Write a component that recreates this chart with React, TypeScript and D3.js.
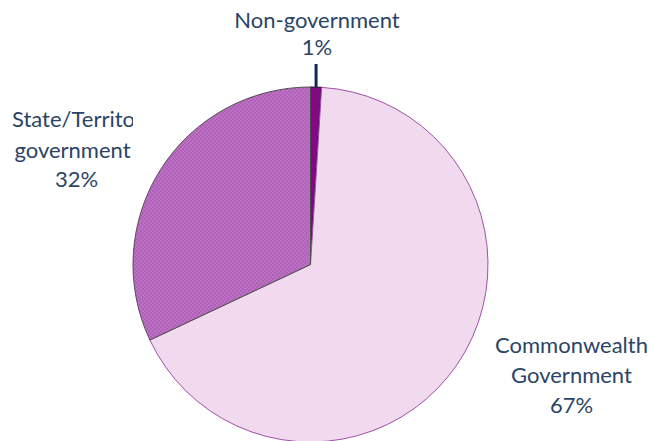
import React from "react";
import * as d3 from "d3";

const categories = ["Non-government", "Commonwealth Government", "State/Territory government"];
const values = [1, 67, 32];
const percentLabels = ["1%", "67%", "32%"];

const W = 653;
const H = 441;

export default function App() {
  const cx = 310.5;
  const cy = 264.5;
  const r = 177.5;
  const pie = d3.pie<number>().sort(null).value((d) => d)(values);
  const arc = d3.arc<d3.PieArcDatum<number>>().innerRadius(0).outerRadius(r);
  const fills = ["url(#pNon)", "url(#pCom)", "url(#pState)"];
  const strokes = ["#3a1040", "#a050a8", "#505050"];
  const textColor = "#2b4466";
  const font = "Lato, 'Open Sans', sans-serif";
  const fs = 22;

  const nonArc = pie[0];
  const midA = (nonArc.startAngle + nonArc.endAngle) / 2;
  const lx = cx + Math.sin(midA) * r;

  return (
    <svg width={W} height={H} style={{ position: "absolute", left: 0, top: 0, background: "#fff" }}>
      <defs>
        <pattern id="pCom" width="4" height="4" patternUnits="userSpaceOnUse">
          <rect width="4" height="4" fill="#f6e0f3" />
          <rect x="0" y="0" width="1" height="1" fill="#cfc4cf" />
          <rect x="2" y="2" width="1" height="1" fill="#cfc4cf" />
          <rect x="2" y="0" width="1" height="1" fill="#ecb8e6" />
          <rect x="0" y="2" width="1" height="1" fill="#ecb8e6" />
          <rect x="1" y="1" width="1" height="1" fill="#fbeefa" />
          <rect x="3" y="3" width="1" height="1" fill="#fbeefa" />
        </pattern>
        <pattern id="pState" width="4" height="4" patternUnits="userSpaceOnUse">
          <rect width="4" height="4" fill="#b768bf" />
          <rect x="0" y="0" width="1" height="1" fill="#9a4fa4" />
          <rect x="2" y="2" width="1" height="1" fill="#9a4fa4" />
          <rect x="2" y="0" width="1" height="1" fill="#c98ad0" />
          <rect x="0" y="2" width="1" height="1" fill="#c98ad0" />
        </pattern>
        <pattern id="pNon" width="2" height="2" patternUnits="userSpaceOnUse">
          <rect width="2" height="2" fill="#8a0a8c" />
          <rect x="0" y="0" width="1" height="1" fill="#6a0070" />
        </pattern>
        <clipPath id="leftClip">
          <rect x="0" y="0" width="133" height={H} />
        </clipPath>
      </defs>
      <g transform={`translate(${cx},${cy})`}>
        {pie.map((p, i) => (
          <path key={categories[i]} d={arc(p) || ""} fill={fills[i]} stroke={strokes[i]} strokeWidth={i === 0 ? 1.2 : 1} />
        ))}
      </g>
      <line x1={lx} x2={lx} y1={64} y2={cy - r + 1} stroke="#0f2a55" strokeWidth={3} />
      <g fontFamily={font} fontSize={fs} fill={textColor} textAnchor="middle">
        <text x={317} y={28}>Non-government</text>
        <text x={317} y={55}>{percentLabels[0]}</text>
        <g clipPath="url(#leftClip)">
          <text x={12} y={127} textAnchor="start">State/Territory</text>
          <text x={72.5} y={158}>government</text>
          <text x={76.5} y={187}>{percentLabels[2]}</text>
        </g>
        <text x={571.5} y={353}>Commonwealth</text>
        <text x={571.5} y={383}>Government</text>
        <text x={571.5} y={413}>{percentLabels[1]}</text>
      </g>
    </svg>
  );
}
